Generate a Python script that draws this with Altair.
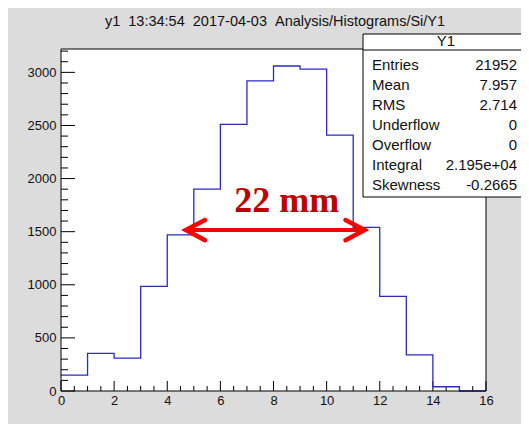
import altair as alt
import pandas as pd

# ---- data ----
bin_edges = list(range(0, 17))
bin_counts = [150, 355, 310, 985, 1470, 1900, 2510, 2920, 3060, 3030, 2410, 1540, 890, 340, 40, 0]

y_major = [0, 500, 1000, 1500, 2000, 2500, 3000]
y_minor = [v for v in range(0, 3300, 100) if v % 500 != 0]
x_major = [0, 2, 4, 6, 8, 10, 12, 14, 16]
x_minor = [v / 2 for v in range(0, 33) if v % 4 != 0]

title_text = "y1\u00a0\u00a013:34:54\u00a0\u00a02017-04-03\u00a0\u00a0Analysis/Histograms/Si/Y1"
stats_title = "Y1"
stat_names = ["Entries", "Mean", "RMS", "Underflow", "Overflow", "Integral", "Skewness"]
stat_values = ["21952", "7.957", "2.714", "0", "0", "2.195e+04", "-0.2665"]

arrow_x = [4.70, 11.43]
arrow_y = 1515
label_text = "22 mm"
label_x = 8.5
label_y = 1690

# ---- layout ----
W, H = 425, 342
YMAX = 3220
FONT = "Liberation Sans"

xs = alt.Scale(domain=[0, 16], nice=False, zero=False)
ys = alt.Scale(domain=[0, YMAX], nice=False, zero=True)

hist_df = pd.DataFrame({"x": bin_edges, "y": bin_counts + [bin_counts[-1]]})

base = alt.Chart(pd.DataFrame({"a": [0]}))

frame = base.mark_rect(filled=False, stroke="black", strokeWidth=1).encode(
    x=alt.value(0), x2=alt.value(W), y=alt.value(0), y2=alt.value(H)
)

yt_major = alt.Chart(pd.DataFrame({"v": y_major})).mark_rule(color="black", strokeWidth=1).encode(
    y=alt.Y("v:Q", scale=ys, axis=alt.Axis(values=y_major, format="d", ticks=False, domain=False,
                                           grid=False, labelFontSize=13, labelFont=FONT,
                                           labelColor="#111", labelPadding=5, title=None)),
    x=alt.value(0), x2=alt.value(14)
)
yt_minor = alt.Chart(pd.DataFrame({"v": y_minor})).mark_rule(color="black", strokeWidth=1).encode(
    y=alt.Y("v:Q", scale=ys), x=alt.value(0), x2=alt.value(7)
)
xt_major = alt.Chart(pd.DataFrame({"v": x_major})).mark_rule(color="black", strokeWidth=1).encode(
    x=alt.X("v:Q", scale=xs, axis=alt.Axis(values=x_major, format="d", ticks=False, domain=False,
                                           grid=False, labelFontSize=13, labelFont=FONT,
                                           labelColor="#111", labelPadding=3, labelFlush=False,
                                           title=None)),
    y=alt.value(H), y2=alt.value(H - 10)
)
xt_minor = alt.Chart(pd.DataFrame({"v": x_minor})).mark_rule(color="black", strokeWidth=1).encode(
    x=alt.X("v:Q", scale=xs), y=alt.value(H), y2=alt.value(H - 5)
)

hist = alt.Chart(hist_df).mark_line(interpolate="step-after", color="#2b2bc4", strokeWidth=1.3).encode(
    x=alt.X("x:Q", scale=xs), y=alt.Y("y:Q", scale=ys)
)

# arrow annotation
shaft_df = pd.DataFrame({"x": [arrow_x[0]], "x2": [arrow_x[1]], "y": [arrow_y]})
shaft = alt.Chart(shaft_df).mark_rule(color="#ff0000", strokeWidth=4).encode(
    x=alt.X("x:Q", scale=xs), x2="x2:Q", y=alt.Y("y:Q", scale=ys)
)
dx, dy = 0.72, 95
head_df = pd.DataFrame({
    "side": ["L", "L", "L", "R", "R", "R"],
    "o": [0, 1, 2, 0, 1, 2],
    "x": [arrow_x[0] + dx, arrow_x[0], arrow_x[0] + dx, arrow_x[1] - dx, arrow_x[1], arrow_x[1] - dx],
    "y": [arrow_y + dy, arrow_y, arrow_y - dy, arrow_y + dy, arrow_y, arrow_y - dy],
})
heads = alt.Chart(head_df).mark_line(color="#ff0000", strokeWidth=4.5, strokeCap="round",
                                     strokeJoin="miter").encode(
    x=alt.X("x:Q", scale=xs), y=alt.Y("y:Q", scale=ys), detail="side:N", order="o:Q"
)
label = alt.Chart(pd.DataFrame({"x": [label_x], "y": [label_y], "t": [label_text]})).mark_text(
    font="Liberation Serif", fontWeight="bold", fontSize=36, color="#c00000",
    align="center", baseline="alphabetic"
).encode(x=alt.X("x:Q", scale=xs), y=alt.Y("y:Q", scale=ys), text="t:N")

title = alt.Chart(pd.DataFrame({"t": [title_text]})).mark_text(
    font=FONT, fontSize=14.5, color="#111", align="center", baseline="middle"
).encode(x=alt.value(214), y=alt.value(-27), text="t:N")

# stats box
box = base.mark_rect(fill="white", stroke="black", strokeWidth=1).encode(
    x=alt.value(302), x2=alt.value(470), y=alt.value(-15), y2=alt.value(148)
)
box_line = base.mark_rule(color="black", strokeWidth=1).encode(
    x=alt.value(302), x2=alt.value(470), y=alt.value(1)
)
box_title = alt.Chart(pd.DataFrame({"t": [stats_title]})).mark_text(
    font=FONT, fontSize=15, color="#111", align="center", baseline="middle"
).encode(x=alt.value(385), y=alt.value(-8), text="t:N")

stats_df = pd.DataFrame({"name": stat_names, "val": stat_values, "i": list(range(len(stat_names)))})
stat_lab = alt.Chart(stats_df).transform_calculate(py="16 + datum.i * 20").mark_text(
    font=FONT, fontSize=15, color="#111", align="left", baseline="middle"
).encode(x=alt.value(311), y=alt.Y("py:Q", scale=None, axis=None), text="name:N")
stat_val = alt.Chart(stats_df).transform_calculate(py="16 + datum.i * 20").mark_text(
    font=FONT, fontSize=15, color="#111", align="right", baseline="middle"
).encode(x=alt.value(456), y=alt.Y("py:Q", scale=None, axis=None), text="val:N")

chart = alt.layer(
    yt_major, yt_minor, xt_major, xt_minor, hist, shaft, heads, label, frame, title,
    box, box_line, box_title, stat_lab, stat_val
).properties(
    width=W, height=H,
    padding={"left": 53, "top": 41, "right": 35, "bottom": 33},
    autosize=alt.AutoSizeParams(type="none"),
    background="#dcdcdc",
).configure_view(fill="white", stroke=None)

chart.save("out.html", embed_options={"renderer": "svg", "actions": False})
